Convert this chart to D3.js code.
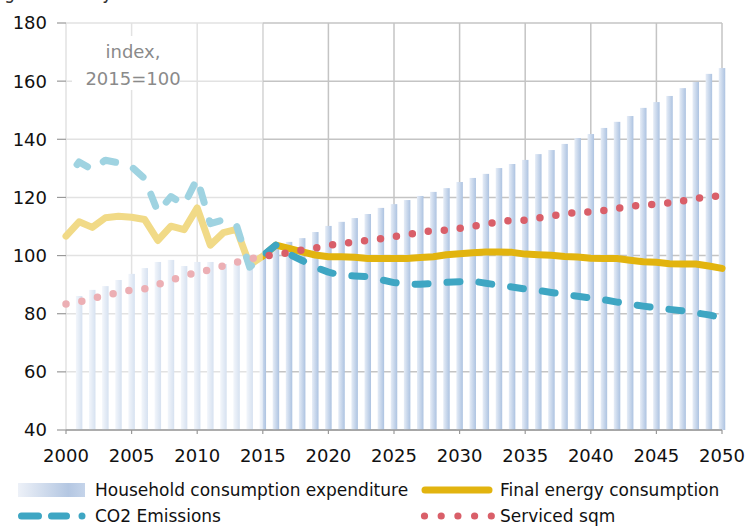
<!DOCTYPE html>
<html>
<head>
<meta charset="utf-8">
<script src="https://cdn.jsdelivr.net/npm/d3@7/dist/d3.min.js"></script>
<style>
  html, body { margin: 0; padding: 0; background: #fff; }
  svg { display: block; }
</style>
</head>
<body>
<svg id="chart" width="751" height="526"></svg>
<script>
// ---------- DATA ----------
const titleText = "Figure 27: Key indicators in the residential sector";
const unitLabel = ["index,", "2015=100"];

const barYears = d3.range(2001, 2051);
const householdExpenditure = [
  86.1, 88.2, 89.5, 91.6, 93.7, 95.7, 97.8, 98.5, 96.4, 97.8,
  97.8, 97.1, 97.1, 97.8, 100.0, 102.5, 104.7, 106.0, 108.1, 110.2,
  111.6, 112.9, 114.3, 116.4, 117.7, 119.1, 120.5, 121.9, 123.2, 125.3,
  126.7, 128.1, 130.1, 131.5, 132.9, 134.9, 136.3, 138.4, 140.4, 141.8,
  143.9, 146.0, 148.0, 150.8, 152.8, 154.9, 157.6, 159.7, 162.5, 164.5
];

const lineYears = d3.range(2000, 2051);
const finalEnergy = [
  106.7, 111.6, 109.7, 113.0, 113.5, 113.2, 112.4, 105.2, 110.1, 108.9,
  116.4, 103.6, 107.9, 109.0, 96.8, 99.8, 103.6, 102.5, 101.3, 100.2,
  99.6, 99.6, 99.4, 99.0, 99.0, 99.0, 99.0, 99.3, 99.6, 100.3,
  100.6, 101.0, 101.2, 101.2, 101.1, 100.5, 100.3, 100.1, 99.7, 99.5,
  99.1, 99.0, 99.0, 98.4, 97.9, 97.7, 97.2, 97.1, 97.1, 96.4,
  95.6
];
const co2Emissions = [
  126.4, 132.2, 129.6, 132.8, 131.9, 130.5, 126.5, 115.0, 120.3, 117.5,
  126.5, 111.0, 112.3, 110.3, 96.0, 100.0, 103.6, 100.5, 98.3, 96.0,
  94.3, 93.2, 93.0, 92.7, 91.7, 90.7, 90.2, 90.1, 90.4, 90.8,
  91.0, 91.2, 90.5, 89.8, 89.2, 88.5, 88.0, 87.3, 86.6, 86.0,
  85.4, 84.8, 84.0, 83.3, 82.6, 82.0, 81.5, 81.0, 80.3, 79.6,
  78.6
];
const servicedSqm = [
  83.3, 84.0, 85.2, 86.3, 87.3, 88.2, 88.6, 90.1, 91.5, 93.0,
  94.2, 95.1, 96.5, 97.7, 98.9, 99.7, 100.4, 101.0, 101.9, 102.6,
  103.5, 104.2, 104.6, 105.3, 105.8, 106.5, 107.2, 107.9, 108.6, 108.7,
  109.4, 110.1, 110.8, 111.6, 112.1, 112.2, 112.9, 113.6, 114.3, 114.9,
  115.0, 115.5, 116.2, 116.9, 117.5, 117.6, 118.2, 118.8, 119.6, 120.3,
  120.5
];

const xTicks = d3.range(2000, 2051, 5);
const yTicks = [40, 60, 80, 100, 120, 140, 160, 180];
const historicEnd = 2015;

const seriesNames = ["Household consumption expenditure", "Final energy consumption", "CO2 Emissions", "Serviced sqm"];

// ---------- STYLE ----------
const C = {
  energy: "#e2b40f",
  co2: "#3ea6c3",
  sqm: "#d95f69",
  grid: "#c4c4c4",
  text: "#111",
  label: "#8a8a8a"
};
const FONT = "'DejaVu Sans', Verdana, sans-serif";

const svg = d3.select("#chart");
const x = d3.scaleLinear().domain([2000, 2050]).range([66, 722]);
const y = d3.scaleLinear().domain([40, 180]).range([430, 23]);

// gradient for bars
const defs = svg.append("defs");
const grad = defs.append("linearGradient").attr("id", "barGrad")
  .attr("x1", "0%").attr("x2", "100%").attr("y1", "0%").attr("y2", "0%");
grad.append("stop").attr("offset", "0%").attr("stop-color", "#e6edf7");
grad.append("stop").attr("offset", "100%").attr("stop-color", "#adc3e1");
const lgrad = defs.append("linearGradient").attr("id", "legGrad")
  .attr("x1", "0%").attr("x2", "100%").attr("y1", "0%").attr("y2", "0%");
lgrad.append("stop").attr("offset", "0%").attr("stop-color", "#edf1f8");
lgrad.append("stop").attr("offset", "75%").attr("stop-color", "#b4c7e2");
lgrad.append("stop").attr("offset", "100%").attr("stop-color", "#c5d4ea");

// title (mostly cut off at top, as in the source figure)
svg.append("text").attr("x", -9).attr("y", -1)
  .attr("font-family", "'DejaVu Sans Condensed', 'DejaVu Sans', sans-serif")
  .attr("font-size", 19).attr("fill", "#333").text(titleText);

// grid
const grid = svg.append("g");
grid.selectAll("line.h").data(yTicks).join("line")
  .attr("x1", x(2000)).attr("x2", x(2050))
  .attr("y1", d => y(d)).attr("y2", d => y(d))
  .attr("stroke", C.grid).attr("stroke-width", 1.5);
grid.selectAll("line.v").data(xTicks).join("line")
  .attr("x1", d => x(d)).attr("x2", d => x(d))
  .attr("y1", y(180)).attr("y2", y(40))
  .attr("stroke", C.grid).attr("stroke-width", 1.5);

// bars
const bw = 6.5;
svg.append("g").selectAll("rect").data(barYears).join("rect")
  .attr("x", (d) => x(d) - bw / 2)
  .attr("width", bw)
  .attr("y", (d, i) => y(householdExpenditure[i]))
  .attr("height", (d, i) => y(40) - y(householdExpenditure[i]))
  .attr("fill", "url(#barGrad)");

// lines
const lineGen = (vals) => d3.line().x((d, i) => x(lineYears[i])).y(d => y(d))(vals);

svg.append("path").attr("d", lineGen(finalEnergy))
  .attr("fill", "none").attr("stroke", C.energy).attr("stroke-width", 7)
  .attr("stroke-linejoin", "round").attr("stroke-linecap", "round");

const co2Path = svg.append("path").attr("d", lineGen(co2Emissions))
  .attr("fill", "none").attr("stroke", C.co2).attr("stroke-width", 7)
  .attr("stroke-linejoin", "round").attr("stroke-linecap", "round");

// align dash phase
(function () {
  const node = co2Path.node();
  const total = node.getTotalLength();
  const period = 32, dash = 13;
  let lo = 0, hi = total;
  for (let k = 0; k < 40; k++) {
    const mid = (lo + hi) / 2;
    if (node.getPointAtLength(mid).x < 447) lo = mid; else hi = mid;
  }
  const off = (period - (lo % period)) % period;
  co2Path.attr("stroke-dasharray", dash + " " + (period - dash)).attr("stroke-dashoffset", off);
})();

svg.append("path").attr("d", lineGen(servicedSqm))
  .attr("fill", "none").attr("stroke", C.sqm).attr("stroke-width", 7.5)
  .attr("stroke-linecap", "round").attr("stroke-dasharray", "0 16.1");

// historic fade overlay
svg.append("rect").attr("x", 58).attr("y", 18)
  .attr("width", x(historicEnd) - 58).attr("height", y(40) - 18 + 6)
  .attr("fill", "#fff").attr("opacity", 0.5);

// axes ticks
svg.append("g").selectAll("line").data(yTicks).join("line")
  .attr("x1", 57).attr("x2", x(2000)).attr("y1", d => y(d)).attr("y2", d => y(d))
  .attr("stroke", "#999").attr("stroke-width", 1.2);
svg.append("g").selectAll("line").data(xTicks).join("line")
  .attr("x1", d => x(d)).attr("x2", d => x(d)).attr("y1", y(40)).attr("y2", y(40) + 4)
  .attr("stroke", "#999").attr("stroke-width", 1.2);
svg.append("line").attr("x1", x(2000)).attr("x2", x(2050)).attr("y1", y(40)).attr("y2", y(40))
  .attr("stroke", "#999").attr("stroke-width", 1.5);

// tick labels
svg.append("g").selectAll("text").data(yTicks).join("text")
  .attr("x", 47).attr("y", d => y(d)).attr("dy", "0.36em")
  .attr("text-anchor", "end").attr("font-family", FONT).attr("font-size", 18)
  .attr("fill", C.text).text(d => d);
svg.append("g").selectAll("text").data(xTicks).join("text")
  .attr("x", d => x(d)).attr("y", 462)
  .attr("text-anchor", "middle").attr("font-family", FONT).attr("font-size", 18)
  .attr("fill", C.text).text(d => d);

// unit label with white background
svg.append("rect").attr("x", 72).attr("y", 36).attr("width", 108).attr("height", 54).attr("fill", "#fff");
svg.append("g").selectAll("text").data(unitLabel).join("text")
  .attr("x", 133).attr("y", (d, i) => 58 + i * 27)
  .attr("text-anchor", "middle").attr("font-family", FONT).attr("font-size", 18)
  .attr("fill", C.label).text(d => d);

// legend
const leg = svg.append("g");
leg.append("rect").attr("x", 18).attr("y", 483).attr("width", 67).attr("height", 14).attr("fill", "url(#legGrad)");
leg.append("line").attr("x1", 425).attr("x2", 489).attr("y1", 490).attr("y2", 490)
  .attr("stroke", C.energy).attr("stroke-width", 7).attr("stroke-linecap", "round");
leg.append("line").attr("x1", 21.5).attr("x2", 82.5).attr("y1", 516).attr("y2", 516)
  .attr("stroke", C.co2).attr("stroke-width", 7).attr("stroke-linecap", "round")
  .attr("stroke-dasharray", "17 13 15 15.5 0 40");
leg.selectAll("circle").data(d3.range(5)).join("circle")
  .attr("cx", d => 424.5 + d * 16.7).attr("cy", 516).attr("r", 3.6).attr("fill", C.sqm);
const legPos = [[95, 496], [500, 496], [95, 522], [500, 522]];
leg.selectAll("text").data(seriesNames).join("text")
  .attr("x", (d, i) => legPos[i][0]).attr("y", (d, i) => legPos[i][1])
  .attr("font-family", FONT).attr("font-size", 17).attr("fill", C.text).text(d => d);
</script>
</body>
</html>
